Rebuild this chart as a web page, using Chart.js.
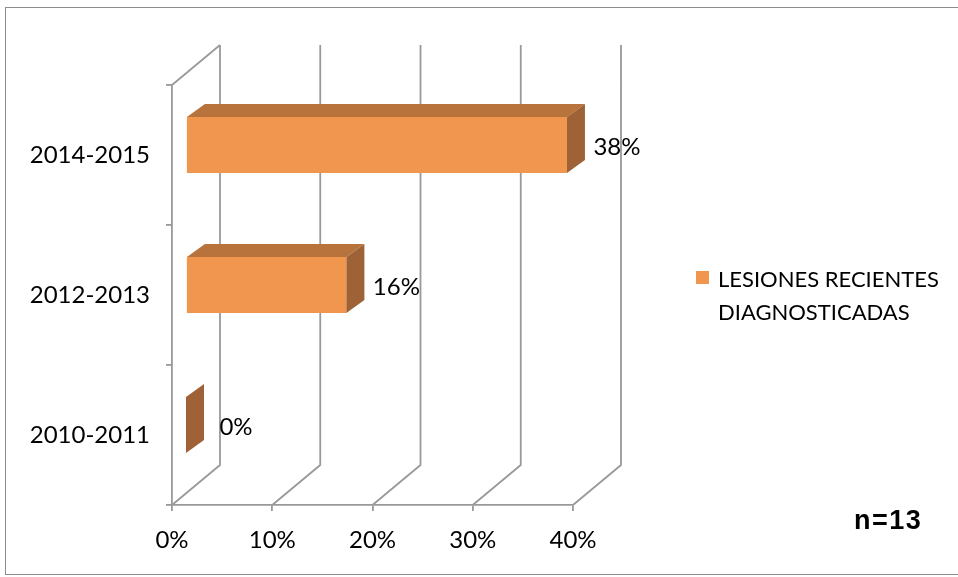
<!DOCTYPE html>
<html>
<head>
<meta charset="utf-8">
<script src="https://cdn.jsdelivr.net/npm/chart.js@4.4.0/dist/chart.umd.min.js"></script>
<style>
body { margin: 0; background: #fff; overflow: hidden; }
#wrap { position: relative; width: 958px; height: 577px; }
#chart { position: absolute; left: 0; top: 0; }
.frame { position: absolute; left: 5px; top: 7px; width: 1000px; height: 566px; border: 1.5px solid #8c8c8c; }
.legend { position: absolute; left: 696px; top: 262px; font: 22px Lato, sans-serif; color: #000; }
.legend .swatch { position: absolute; left: 0; top: 9px; width: 13px; height: 13px; background: #f0964f; }
.legend .ltext { position: absolute; left: 22px; top: 0; line-height: 33px; white-space: nowrap; }
.note { position: absolute; left: 854px; top: 505px; font: bold 27px "Liberation Sans", Arial, sans-serif; letter-spacing: 1.5px; color: #000; }
</style>
</head>
<body>
<div id="wrap">
    <div class="frame"></div>
    <canvas id="chart" width="958" height="577"></canvas>
    <div class="legend"><span class="swatch"></span><div class="ltext">LESIONES RECIENTES<br>DIAGNOSTICADAS</div></div>
    <div class="note">n=13</div>
</div>
<script>
// Data
const periods = ['2010-2011', '2012-2013', '2014-2015'];
const percentages = [0, 16, 38];
const tickValues = [0, 10, 20, 30, 40];
const seriesName = 'LESIONES RECIENTES DIAGNOSTICADAS';

// 3D look
const WALL = { dx: 48, dy: -40 };
const SHIFT = { dx: 14, dy: -10 };
const BAR = { dx: 18, dy: -13 };
const gridColor = '#999999';

const threeD = {
    id: 'threeD',
    beforeDatasetsDraw(chart) {
        const { ctx, chartArea: a, scales: { x } } = chart;
        ctx.save();
        ctx.strokeStyle = gridColor;
        ctx.lineWidth = 1.8;
        ctx.beginPath();
        // top edge of left wall
        ctx.moveTo(a.left, a.top);
        ctx.lineTo(a.left + WALL.dx, a.top + WALL.dy);
        // floor diagonals + back wall gridlines
        tickValues.forEach(v => {
            const px = x.getPixelForValue(v);
            ctx.moveTo(px, a.bottom);
            ctx.lineTo(px + WALL.dx, a.bottom + WALL.dy);
            ctx.lineTo(px + WALL.dx, a.top + WALL.dy);
        });
        ctx.stroke();
        ctx.restore();

        // bars sit a bit into the depth
        ctx.save();
        ctx.translate(SHIFT.dx, SHIFT.dy);
    },
    afterDatasetsDraw(chart) {
        const ctx = chart.ctx;
        chart.getDatasetMeta(0).data.forEach((bar, i) => {
            const { x, y, base, height } = bar.getProps(['x', 'y', 'base', 'height'], true);
            const top = y - height / 2;
            const bot = y + height / 2;

            // top face
            ctx.fillStyle = '#b8733c';
            ctx.beginPath();
            ctx.moveTo(base, top);
            ctx.lineTo(base + BAR.dx, top + BAR.dy);
            ctx.lineTo(x + BAR.dx, top + BAR.dy);
            ctx.lineTo(x, top);
            ctx.closePath();
            ctx.fill();

            // side face
            ctx.fillStyle = '#9e6236';
            ctx.beginPath();
            ctx.moveTo(x, top);
            ctx.lineTo(x + BAR.dx, top + BAR.dy);
            ctx.lineTo(x + BAR.dx, bot + BAR.dy);
            ctx.lineTo(x, bot);
            ctx.closePath();
            ctx.fill();

            // value label
            ctx.fillStyle = '#000';
            ctx.font = '24px Lato';
            ctx.textAlign = 'center';
            ctx.textBaseline = 'middle';
            ctx.fillText(percentages[i] + '%', x + 50, y + 2);
        });
        ctx.restore();
    }
};

Chart.defaults.font.family = 'Lato';
Chart.defaults.font.size = 24;
Chart.defaults.color = '#000';

new Chart(document.getElementById('chart'), {
    type: 'bar',
    data: {
        labels: periods,
        datasets: [{
            label: seriesName,
            data: percentages,
            backgroundColor: '#f0964f',
            borderWidth: 0,
            categoryPercentage: 1,
            barPercentage: 0.4
        }]
    },
    options: {
        indexAxis: 'y',
        responsive: false,
        animation: false,
        layout: { padding: { left: 0, top: 85, right: 385, bottom: 0 } },
        plugins: {
            legend: { display: false },
            tooltip: { enabled: false }
        },
        scales: {
            x: {
                min: 0,
                max: 40,
                afterBuildTicks: s => { s.ticks = tickValues.map(v => ({ value: v })); },
                ticks: { callback: v => v + '%', padding: 15, maxRotation: 0 },
                grid: { drawOnChartArea: false, tickLength: 6, color: gridColor, lineWidth: 1.8 },
                border: { color: gridColor, width: 1.8 },
                afterFit: s => { s.height = 72; }
            },
            y: {
                reverse: true,
                ticks: { padding: 16 },
                grid: { drawOnChartArea: false, tickLength: 6, color: gridColor, lineWidth: 1.8 },
                border: { color: gridColor, width: 1.8 },
                afterFit: s => { s.height; s.width = 172; }
            }
        }
    },
    plugins: [threeD]
});
</script>
</body>
</html>
